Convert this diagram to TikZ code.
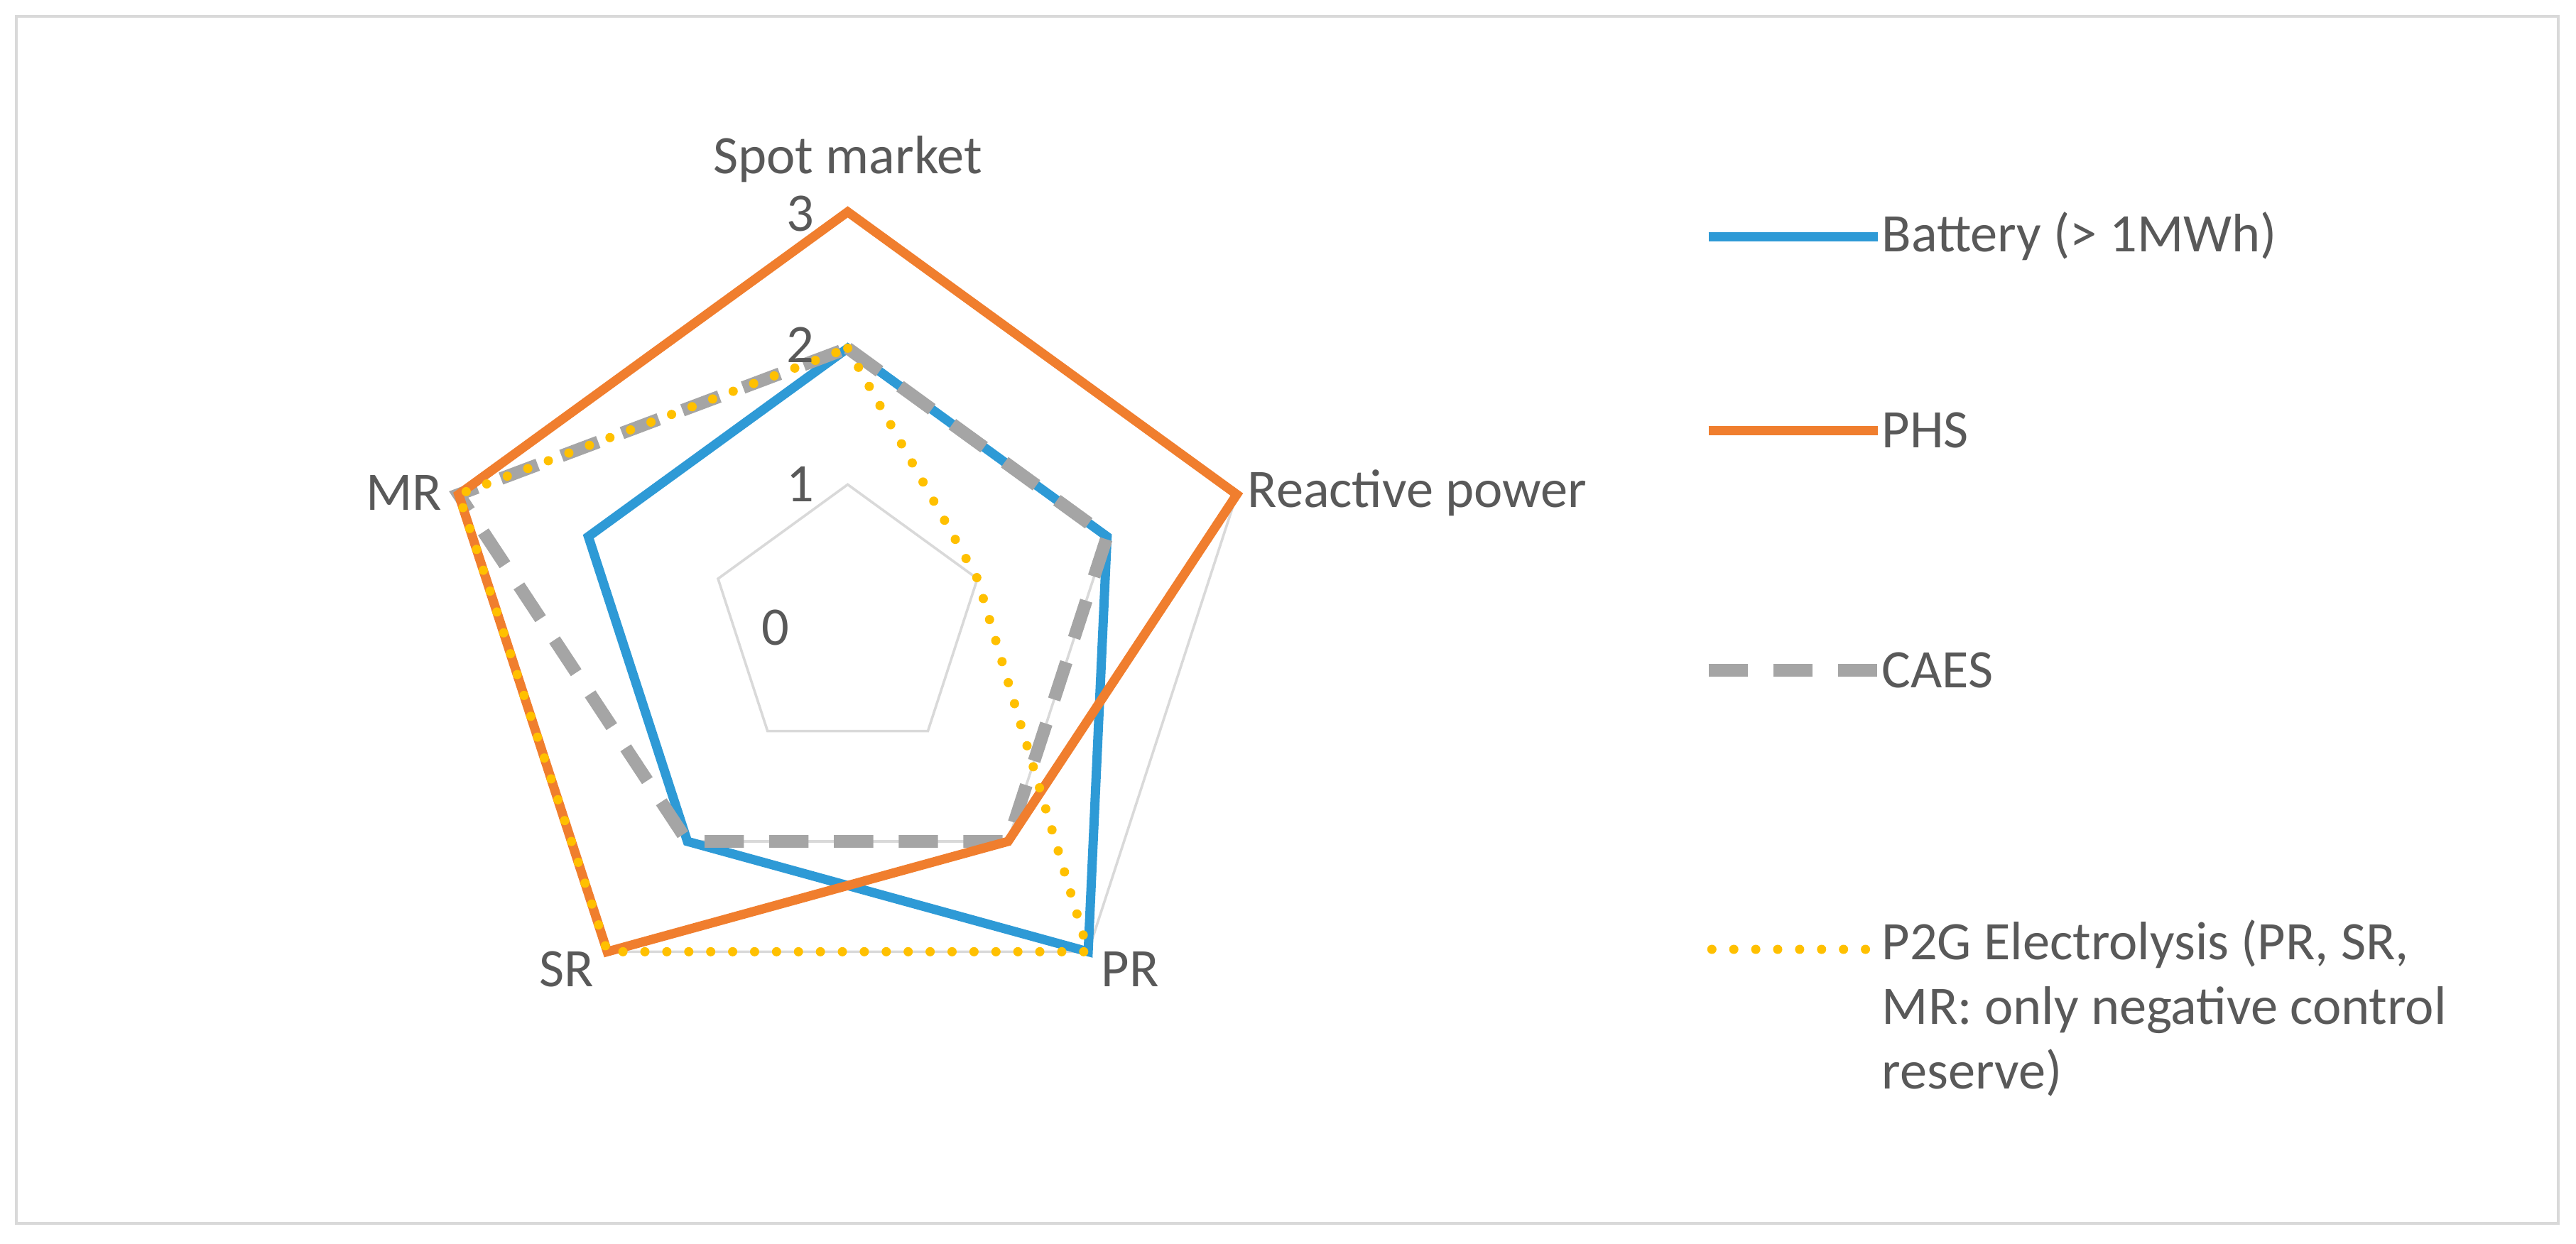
\documentclass[tikz,border=0pt]{standalone}
\usepackage{fontspec}
\setmainfont{Carlito}
\usetikzlibrary{calc}
\begin{document}
\begin{tikzpicture}[x=0.05cm,y=0.05cm,
  lab/.style={text=txt,font=\fontsize{47}{56}\selectfont},
  grid/.style={draw=gridc,line width=2.2pt},
  bat/.style={draw=bblue,line width=8pt,line join=miter},
  phs/.style={draw=porange,line width=8pt,line join=miter},
  caes/.style={draw=cgray,line width=11pt,dash pattern=on 34pt off 22pt},
  p2g/.style={draw=pyellow,line width=8pt,line cap=round,dash pattern=on 0pt off 19pt}]
\definecolor{bblue}{HTML}{2E9AD6}
\definecolor{porange}{HTML}{F07E2E}
\definecolor{cgray}{HTML}{A5A5A5}
\definecolor{pyellow}{HTML}{FFC000}
\definecolor{gridc}{HTML}{D9D9D9}
\definecolor{txt}{HTML}{595959}
\useasboundingbox (0,0) rectangle (1568,-757);
\draw[draw=gridc,line width=2.5pt] (10,-10) rectangle (1557,-745);
\coordinate (c) at (516,-378);
\foreach \i/\a in {0/90,1/18,2/-54,3/-126,4/162}{
  \foreach \v in {1,2,3}{\coordinate (p\i\v) at ($(c)+(\a:83*\v)$);}
}
\foreach \v in {1,2,3}{\draw[grid] (p0\v)--(p1\v)--(p2\v)--(p3\v)--(p4\v)--cycle;}
\draw[bat] (p02)--(p12)--(p23)--(p32)--(p42)--cycle;
\draw[caes] (p02)--(p12)--(p22)--(p32)--(p43)--cycle;
\draw[phs] (p03)--(p13)--(p22)--(p33)--(p43)--cycle;
\draw[p2g] (p02)--(p11)--(p23)--(p33)--(p43)--cycle;
\node[lab] (l0) at (487,-130) {3};
\node[lab] (l1) at (487,-210) {2};
\node[lab] (l2) at (487,-295) {1};
\node[lab] (l3) at (472,-382) {0};
\node[lab] (a0) at (516,-97) {Spot market};
\node[lab,anchor=west] (a1) at (757,-300) {Reactive power};
\node[lab] (a2) at (688,-590) {PR};
\node[lab] (a3) at (345,-590) {SR};
\node[lab] (a4) at (246,-300) {MR};
\coordinate (b1) at (1040,-144); \coordinate (b2) at (1143,-144);
\draw[bat] (b1)--(b2);
\node[lab,anchor=west] (t1) at (1143,-144) {Battery (> 1MWh)};
\coordinate (o1) at (1040,-262); \coordinate (o2) at (1143,-262);
\draw[phs] (o1)--(o2);
\node[lab,anchor=west] (t2) at (1143,-262) {PHS};
\coordinate (g1) at (1040,-408); \coordinate (g2) at (1143,-408);
\draw[caes] (g1)--(g2);
\node[lab,anchor=west] (t3) at (1143,-408) {CAES};
\coordinate (y1) at (1042,-578); \coordinate (y2) at (1143,-578);
\draw[p2g] (y1)--(y2);
\node[lab,anchor=north west,align=left,inner ysep=0pt] (t4) at (1143,-560) {P2G Electrolysis (PR, SR,\\MR: only negative control\\reserve)};
\end{tikzpicture}
\end{document}
